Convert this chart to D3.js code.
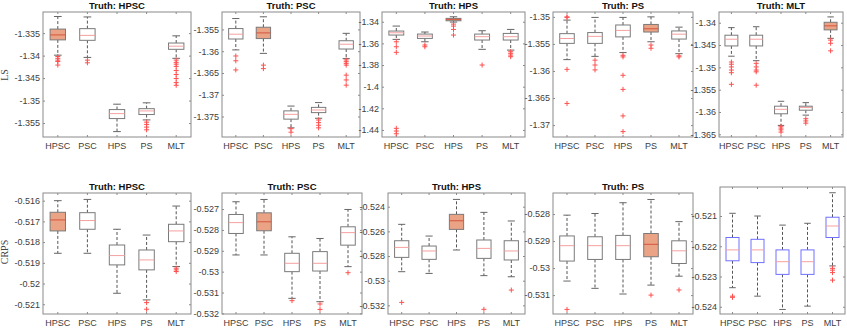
<!DOCTYPE html>
<html><head><meta charset="utf-8">
<script src="https://cdn.jsdelivr.net/npm/d3@7"></script>
<style>body{margin:0;background:#fff} svg{display:block}</style>
</head><body>
<svg id="c" width="847" height="328"></svg>
<script>
const categories = ["HPSC","PSC","HPS","PS","MLT"];
const titles = ["Truth: HPSC","Truth: PSC","Truth: HPS","Truth: PS","Truth: MLT",
                "Truth: HPSC","Truth: PSC","Truth: HPS","Truth: PS",""];
const truthIdx = [0,1,2,3,4,0,1,2,3,-1];
const rowLabels = ["LS","CRPS"];

// each box: [lowerWhisker, q1, median, q3, upperWhisker, outliers]
const lsTruthHPSC = [
  [-1.3399,-1.3365,-1.3354,-1.3341,-1.3313,[-1.3402,-1.3406,-1.3410,-1.3413,-1.3421]],
  [-1.3404,-1.3366,-1.3355,-1.3340,-1.3314,[-1.3410,-1.3416]],
  [-1.3569,-1.3540,-1.3529,-1.3520,-1.3508,[]],
  [-1.3543,-1.3531,-1.3523,-1.3518,-1.3505,[-1.3548,-1.3553,-1.3559,-1.3565]],
  [-1.3406,-1.3386,-1.3379,-1.3372,-1.3356,[-1.3410,-1.3415,-1.3419,-1.3424,-1.3433,-1.3442,-1.3451,-1.3460,-1.3466]]
];
const lsTruthPSC = [
  [-1.3597,-1.3572,-1.3561,-1.3548,-1.3525,[-1.3611,-1.3622,-1.3643]],
  [-1.3605,-1.3571,-1.3558,-1.3545,-1.3521,[-1.3632,-1.3640]],
  [-1.3776,-1.3756,-1.3745,-1.3737,-1.3726,[-1.3778,-1.3786]],
  [-1.3754,-1.3741,-1.3735,-1.3729,-1.3718,[-1.3758,-1.3764,-1.3770,-1.3776]],
  [-1.3617,-1.3595,-1.3584,-1.3576,-1.3559,[-1.3620,-1.3624,-1.3628,-1.3632,-1.3655,-1.3666,-1.3678]]
];
const lsTruthHPS = [
  [-1.3563,-1.3523,-1.3502,-1.3486,-1.3440,[-1.3585,-1.3631,-1.3683,-1.4385,-1.4410,-1.4435]],
  [-1.3585,-1.3554,-1.3532,-1.3514,-1.3495,[-1.3615,-1.3631]],
  [-1.3403,-1.3391,-1.3378,-1.3369,-1.3354,[-1.3422,-1.3440,-1.3471,-1.3523]],
  [-1.3655,-1.3569,-1.3538,-1.3514,-1.3483,[-1.3800]],
  [-1.3662,-1.3569,-1.3538,-1.3508,-1.3471,[-1.3677,-1.3692,-1.3708,-1.3723]]
];
const lsTruthPS = [
  [-1.3579,-1.3549,-1.3540,-1.3531,-1.3506,[-1.3500,-1.3501,-1.3597,-1.3660]],
  [-1.3573,-1.3549,-1.3536,-1.3529,-1.3501,[-1.3580,-1.3589,-1.3598]],
  [-1.3566,-1.3537,-1.3525,-1.3515,-1.3501,[-1.3571,-1.3574,-1.3608,-1.3634,-1.3683,-1.3712]],
  [-1.3546,-1.3528,-1.3522,-1.3514,-1.3500,[-1.3552,-1.3558]],
  [-1.3568,-1.3541,-1.3532,-1.3526,-1.3519,[-1.3572,-1.3574]]
];
const lsTruthMLT = [
  [-1.3475,-1.3452,-1.3437,-1.3428,-1.3411,[-1.3488,-1.3493,-1.3499,-1.3506,-1.3512,-1.3538]],
  [-1.3485,-1.3452,-1.3437,-1.3428,-1.3409,[-1.3491,-1.3499,-1.3506,-1.3510,-1.3540]],
  [-1.3630,-1.3604,-1.3594,-1.3587,-1.3576,[-1.3632,-1.3636,-1.3640,-1.3645]],
  [-1.3607,-1.3596,-1.3590,-1.3587,-1.3579,[-1.3615,-1.3620,-1.3625]],
  [-1.3435,-1.3416,-1.3407,-1.3399,-1.3387,[-1.3439,-1.3446,-1.3463]]
];
const crpsTruthHPSC = [
  [-0.51854,-0.51746,-0.51693,-0.51656,-0.51600,[]],
  [-0.51854,-0.51738,-0.51696,-0.51658,-0.51594,[]],
  [-0.52047,-0.51910,-0.51865,-0.51814,-0.51738,[]],
  [-0.52079,-0.51934,-0.51886,-0.51838,-0.51766,[-0.52092,-0.52124]],
  [-0.51918,-0.51798,-0.51746,-0.51714,-0.51626,[-0.51926,-0.51934,-0.51942]]
];
const crpsTruthPSC = [
  [-0.52920,-0.52817,-0.52765,-0.52726,-0.52665,[]],
  [-0.52920,-0.52804,-0.52761,-0.52718,-0.52654,[]],
  [-0.53128,-0.53000,-0.52960,-0.52912,-0.52833,[-0.53139]],
  [-0.53144,-0.52997,-0.52960,-0.52904,-0.52841,[-0.53155,-0.53181]],
  [-0.52976,-0.52873,-0.52813,-0.52785,-0.52702,[-0.53005]]
];
const crpsTruthHPS = [
  [-0.52927,-0.52811,-0.52730,-0.52676,-0.52543,[-0.53176]],
  [-0.52941,-0.52827,-0.52759,-0.52719,-0.52638,[]],
  [-0.52751,-0.52584,-0.52514,-0.52462,-0.52341,[]],
  [-0.52959,-0.52819,-0.52738,-0.52670,-0.52446,[-0.53232]],
  [-0.52968,-0.52832,-0.52759,-0.52676,-0.52516,[-0.53076]]
];
const crpsTruthPS = [
  [-0.53048,-0.52974,-0.52917,-0.52881,-0.52804,[-0.53153]],
  [-0.53075,-0.52968,-0.52917,-0.52884,-0.52798,[]],
  [-0.53096,-0.52968,-0.52917,-0.52879,-0.52758,[]],
  [-0.53063,-0.52958,-0.52912,-0.52872,-0.52746,[-0.53100]],
  [-0.53030,-0.52983,-0.52936,-0.52899,-0.52828,[-0.53081]]
];
const crpsAll = [
  [-0.52337,-0.52248,-0.52212,-0.52171,-0.52091,[-0.52365,-0.52369]],
  [-0.52365,-0.52254,-0.52212,-0.52177,-0.52100,[]],
  [-0.52409,-0.52293,-0.52251,-0.52212,-0.52130,[]],
  [-0.52398,-0.52293,-0.52251,-0.52212,-0.52124,[]],
  [-0.52265,-0.52171,-0.52133,-0.52104,-0.52023,[-0.52273,-0.52279,-0.52287,-0.52312]]
];
const panelData = [lsTruthHPSC, lsTruthPSC, lsTruthHPS, lsTruthPS, lsTruthMLT,
                   crpsTruthHPSC, crpsTruthPSC, crpsTruthHPS, crpsTruthPS, crpsAll];

const yDomains = [
  [-1.3581,-1.3303],[-1.3797,-1.3510],[-1.4465,-1.3310],[-1.3722,-1.3491],[-1.3656,-1.3376],
  [-0.52147,-0.51563],[-0.53203,-0.52623],[-0.53270,-0.52289],[-0.53170,-0.52722],[-0.52424,-0.52004]
];
const yTicks = [
  [-1.335,-1.34,-1.345,-1.35,-1.355],
  [-1.355,-1.36,-1.365,-1.37,-1.375],
  [-1.34,-1.36,-1.38,-1.4,-1.42,-1.44],
  [-1.35,-1.355,-1.36,-1.365,-1.37],
  [-1.34,-1.345,-1.35,-1.355,-1.36,-1.365],
  [-0.516,-0.517,-0.518,-0.519,-0.52,-0.521],
  [-0.527,-0.528,-0.529,-0.53,-0.531,-0.532],
  [-0.524,-0.526,-0.528,-0.53,-0.532],
  [-0.528,-0.529,-0.53,-0.531],
  [-0.521,-0.522,-0.523,-0.524]
];

// layout (pixel frames of each axes)
const frames = [
  [43,191,12,137],[222,360,12,137],[382,525,12,137],[553,693,12,137],[719,843,12,137],
  [43,191,193,314],[222,362,193,314],[388,525,193,314],[553,693,193,314],[720,845,187,314]
];

const FONT = "'Liberation Sans', Arial, sans-serif";
const svg = d3.select("#c");
const axisCol = "#8a8a8a", textCol = "#404040";

panelData.forEach((boxes, p) => {
  const [x0,x1,y0,y1] = frames[p];
  const x = d3.scaleBand().domain(categories).range([x0,x1]).padding(0);
  const y = d3.scaleLinear().domain(yDomains[p]).range([y1,y0]);
  const bw = x.bandwidth();
  const boxW = bw*0.52, capW = boxW*0.5;
  const g = svg.append("g");
  const clipId = "clip"+p;
  svg.append("clipPath").attr("id",clipId).append("rect")
     .attr("x",x0).attr("y",y0).attr("width",x1-x0).attr("height",y1-y0);
  const fmt = v => String(+v.toFixed(4));

  const la = g.append("g").attr("transform",`translate(${x0},0)`)
    .call(d3.axisLeft(y).tickValues(yTicks[p]).tickSize(-2).tickPadding(3).tickFormat(fmt));
  la.select(".domain").remove();
  la.selectAll("line").attr("stroke",axisCol);
  la.selectAll("text").attr("font-family",FONT).attr("font-size","9px").attr("fill",textCol);
  const ra = g.append("g").attr("transform",`translate(${x1},0)`)
    .call(d3.axisRight(y).tickValues(yTicks[p]).tickSize(-2).tickFormat(""));
  ra.select(".domain").remove();
  ra.selectAll("line").attr("stroke",axisCol);
  const ba = g.append("g").attr("transform",`translate(0,${y1})`)
    .call(d3.axisBottom(x).tickSize(-2).tickPadding(5.5));
  ba.select(".domain").remove();
  ba.selectAll("line").attr("stroke",axisCol);
  ba.selectAll("text").attr("font-family",FONT).attr("font-size","9px").attr("fill",textCol);
  const ta = g.append("g").attr("transform",`translate(0,${y0})`)
    .call(d3.axisTop(x).tickSize(-2).tickFormat(""));
  ta.select(".domain").remove();
  ta.selectAll("line").attr("stroke",axisCol);

  const plot = g.append("g").attr("clip-path",`url(#${clipId})`);
  boxes.forEach((b, i) => {
    const [lo,q1,med,q3,hi,outs] = b;
    const cx = x(categories[i]) + bw/2;
    const isTruth = truthIdx[p] === i;
    const boxStroke = p === 9 ? "#7070ff" : "#7a7a7a";
    plot.append("line").attr("x1",cx).attr("x2",cx).attr("y1",y(q3)).attr("y2",y(hi))
      .attr("stroke","#555").attr("stroke-dasharray","3,2");
    plot.append("line").attr("x1",cx).attr("x2",cx).attr("y1",y(q1)).attr("y2",y(lo))
      .attr("stroke","#555").attr("stroke-dasharray","3,2");
    [hi,lo].forEach(v => plot.append("line").attr("x1",cx-capW/2).attr("x2",cx+capW/2)
      .attr("y1",y(v)).attr("y2",y(v)).attr("stroke","#666"));
    plot.append("rect").attr("x",cx-boxW/2).attr("width",boxW)
      .attr("y",y(q3)).attr("height",Math.max(0.5,y(q1)-y(q3)))
      .attr("fill",isTruth ? "#eba385" : "#fff").attr("stroke",boxStroke).attr("stroke-width",1);
    plot.append("line").attr("x1",cx-boxW/2).attr("x2",cx+boxW/2)
      .attr("y1",y(med)).attr("y2",y(med))
      .attr("stroke",isTruth ? "#d4553f" : "#f5a0a0").attr("stroke-width",1);
    outs.forEach(o => {
      const oy = y(o);
      plot.append("path").attr("d",`M${cx-2.5},${oy}H${cx+2.5}M${cx},${oy-2.5}V${oy+2.5}`)
        .attr("stroke","#ff5050").attr("stroke-width",1).attr("fill","none");
    });
  });

  g.append("rect").attr("x",x0).attr("y",y0).attr("width",x1-x0).attr("height",y1-y0)
    .attr("fill","none").attr("stroke",axisCol).attr("stroke-width",1);

  if (titles[p]) {
    g.append("text").attr("x",(x0+x1)/2).attr("y",y0-3.5).attr("text-anchor","middle")
      .attr("font-family",FONT).attr("font-size","9.5px").attr("font-weight","bold")
      .attr("fill","#111").text(titles[p]);
  }
});

[[75, rowLabels[0]],[252, rowLabels[1]]].forEach(([cy, t]) => {
  svg.append("text").attr("transform",`translate(8,${cy}) rotate(-90)`)
    .attr("text-anchor","middle").attr("font-family","'Liberation Serif', 'Times New Roman', serif")
    .attr("font-size","10px").attr("fill","#444").text(t);
});
</script>
</body></html>
